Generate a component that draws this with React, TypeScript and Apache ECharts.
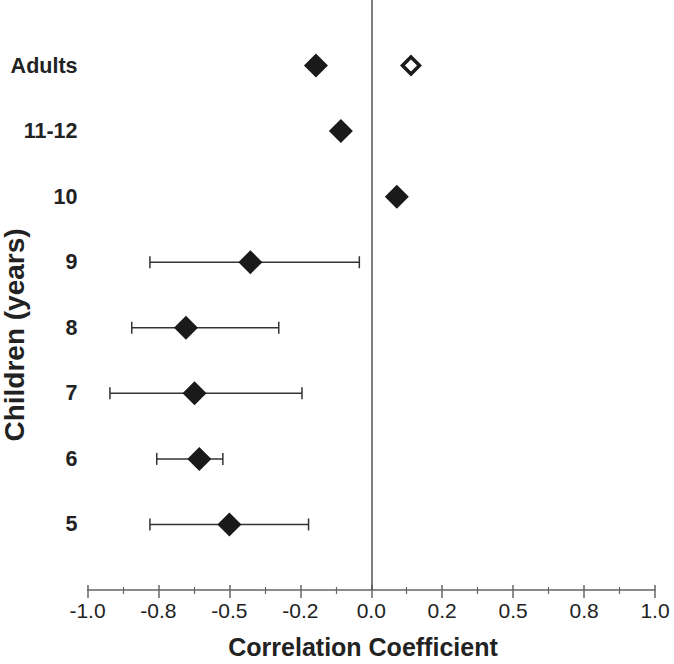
import React, { useEffect, useRef } from "react";
import * as echarts from "echarts";

const categories = ["5", "6", "7", "8", "9", "10", "11-12", "Adults"];
const catPos = [1, 2, 3, 4, 5, 6, 7, 8];
const filledValues = [-0.5, -0.606, -0.623, -0.653, -0.426, 0.09, -0.107, -0.195];
const errLow = [-0.78, -0.756, -0.921, -0.844, -0.78, null, null, null];
const errHigh = [-0.221, -0.523, -0.244, -0.326, -0.042, null, null, null];
const openValues = [{ cat: "Adults", value: 0.14 }];
const xTickLabels = ["-1.0", "-0.8", "-0.5", "-0.2", "0.0", "0.2", "0.5", "0.8", "1.0"];
const xTickValues = [-1, -0.75, -0.5, -0.25, 0, 0.25, 0.5, 0.75, 1];

const FONT = '"Liberation Sans", Arial, Helvetica, sans-serif';

export default function App() {
  const ref = useRef<HTMLDivElement>(null);
  useEffect(() => {
    if (!ref.current) return;
    const chart = echarts.init(ref.current, null, { renderer: "svg" });
    const filledData = filledValues.map((v, i) => [v, catPos[i]]);
    const openData = openValues.map((o) => [o.value, catPos[categories.indexOf(o.cat)]]);
    const errData = errLow
      .map((lo, i) => (lo === null ? null : [catPos[i], lo, errHigh[i]]))
      .filter((d) => d !== null);
    const axisColor = "#666";
    const xAxisCommon = {
      type: "value",
      min: -1,
      max: 1,
      interval: 0.25,
      position: "bottom",
      splitLine: { show: false },
    };
    chart.setOption({
      animation: false,
      grid: { left: 87.5, right: 19, top: 0, bottom: 74 },
      xAxis: [
        {
          ...xAxisCommon,
          axisLine: { show: true, onZero: false, lineStyle: { color: axisColor, width: 1.5 } },
          axisTick: { show: true, length: 8, lineStyle: { color: axisColor, width: 1.5 } },
          minorTick: { show: true, splitNumber: 2, length: 4, lineStyle: { color: axisColor, width: 1.2 } },
          axisLabel: {
            margin: 10,
            fontSize: 21,
            fontFamily: FONT,
            color: "#222",
            formatter: (v: number) => {
              const idx = xTickValues.findIndex((t) => Math.abs(t - v) < 1e-6);
              return idx >= 0 ? xTickLabels[idx] : "";
            },
          },
        },
        {
          ...xAxisCommon,
          axisLine: { show: false, onZero: false },
          axisTick: { show: true, inside: true, length: 5, lineStyle: { color: axisColor, width: 1.5 } },
          minorTick: { show: true, splitNumber: 2, length: 3, lineStyle: { color: axisColor, width: 1.2 } },
          axisLabel: { show: false },
        },
      ],
      yAxis: {
        type: "value",
        min: 0,
        max: 9,
        interval: 1,
        axisLine: { show: false },
        axisTick: { show: false },
        splitLine: { show: false },
        axisLabel: {
          margin: 10,
          fontSize: 21.5,
          fontWeight: "bold",
          fontFamily: FONT,
          color: "#222",
          formatter: (v: number) => {
            const idx = catPos.indexOf(Math.round(v));
            return idx >= 0 ? categories[idx] : "";
          },
        },
      },
      graphic: [
        {
          type: "text",
          x: 14,
          y: 335,
          rotation: Math.PI / 2,
          style: {
            text: "Children (years)",
            fontSize: 28,
            fontWeight: "bold",
            fontFamily: FONT,
            fill: "#222",
            align: "center",
            verticalAlign: "middle",
          },
        },
        {
          type: "text",
          x: 363,
          y: 647,
          style: {
            text: "Correlation Coefficient",
            fontSize: 25,
            fontWeight: "bold",
            fontFamily: FONT,
            fill: "#222",
            align: "center",
            verticalAlign: "middle",
          },
        },
      ],
      series: [
        {
          type: "custom",
          xAxisIndex: 0,
          data: errData,
          z: 1,
          renderItem: (params: any, api: any) => {
            const y = api.value(0);
            const lo = api.coord([api.value(1), y]);
            const hi = api.coord([api.value(2), y]);
            const cap = 6;
            const style = { stroke: "#333", lineWidth: 1.5 };
            return {
              type: "group",
              children: [
                { type: "line", shape: { x1: lo[0], y1: lo[1], x2: hi[0], y2: hi[1] }, style },
                { type: "line", shape: { x1: lo[0], y1: lo[1] - cap, x2: lo[0], y2: lo[1] + cap }, style },
                { type: "line", shape: { x1: hi[0], y1: hi[1] - cap, x2: hi[0], y2: hi[1] + cap }, style },
              ],
            };
          },
        },
        {
          type: "scatter",
          xAxisIndex: 0,
          data: filledData,
          symbol: "diamond",
          symbolSize: 24,
          itemStyle: { color: "#1a1a1a", opacity: 1 },
          z: 3,
          markLine: {
            silent: true,
            symbol: "none",
            label: { show: false },
            lineStyle: { color: "#555", width: 1.5, type: "solid", opacity: 1 },
            data: [{ xAxis: 0 }],
          },
        },
        {
          type: "scatter",
          xAxisIndex: 0,
          data: openData,
          symbol: "diamond",
          symbolSize: 17,
          itemStyle: { color: "#fff", borderColor: "#1a1a1a", borderWidth: 3.5, opacity: 1 },
          z: 3,
        },
      ],
    });
    return () => chart.dispose();
  }, []);
  return (
    <div
      ref={ref}
      style={{ position: "fixed", left: 0, top: 0, width: 674, height: 664, background: "#fff" }}
    />
  );
}
